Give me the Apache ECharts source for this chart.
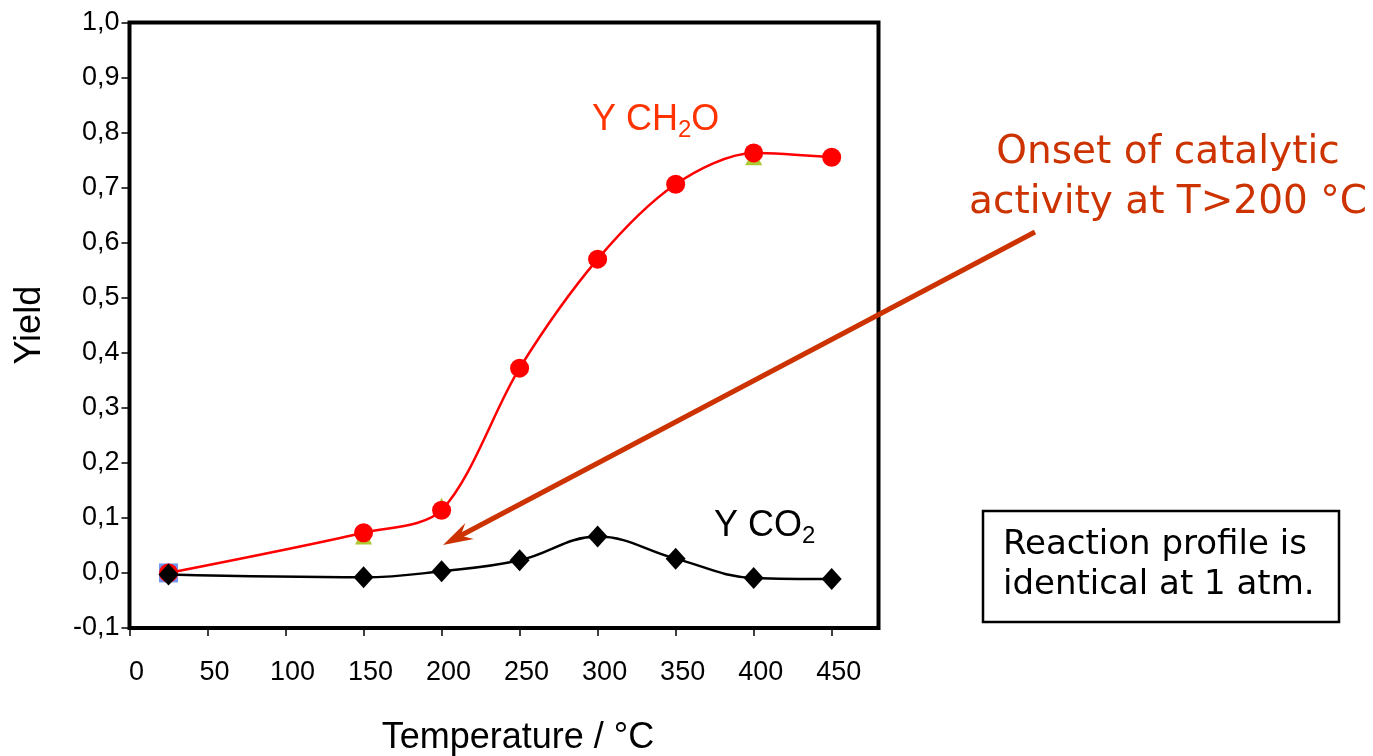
<!DOCTYPE html>
<html>
<head>
    <meta http-equiv="Content-Type" content="text/html; charset=utf-8" />
    <title>Yield vs temperature</title>
    <script src="https://cdn.jsdelivr.net/npm/echarts@6/dist/echarts.min.js"></script>
</head>
<body style="margin:0;padding:0;background:#ffffff;">
    <div id="main" style="width:1373px;height:756px;"></div>
    <script type="text/javascript">
        /*************************************************************
        * data
        *************************************************************/
        var temps = [25, 150, 200, 250, 300, 350, 400, 450];
        var yieldCH2O = [0.0, 0.073, 0.114, 0.372, 0.570, 0.706, 0.763, 0.755];
        var yieldCO2 = [-0.003, -0.008, 0.003, 0.023, 0.066, 0.026, -0.009, -0.011];
        // series hidden behind the red circles (only small bits peek out)
        var yieldHidden = [null, 0.067, 0.121, null, null, null, 0.756, null];
        var startPoint = [[25, 0.0]];
        var xTicks = [0, 50, 100, 150, 200, 250, 300, 350, 400, 450];

        var FONT = 'Liberation Sans';
        var NOTE_FONT = 'DejaVu Sans';

        function pairs(xs, ys) {
            var out = [];
            for (var i = 0; i < xs.length; i++) {
                if (ys[i] == null) continue;
                out.push([xs[i], ys[i]]);
            }
            return out;
        }

        // arrow head polygon from start -> tip
        function arrowHead(x1, y1, x2, y2, len, half, notch) {
            var dx = x2 - x1, dy = y2 - y1;
            var L = Math.sqrt(dx * dx + dy * dy);
            var ux = dx / L, uy = dy / L;
            var nx = -uy, ny = ux;
            var bx = x2 - ux * len, by = y2 - uy * len;
            return [
                [x2, y2],
                [bx + nx * half, by + ny * half],
                [x2 - ux * notch, y2 - uy * notch],
                [bx - nx * half, by - ny * half]
            ];
        }

        var arrowFrom = [1035, 232];
        var arrowTo = [443, 545];

        var chart = echarts.init(document.getElementById('main'));

        var option = {
            animation: false,
            backgroundColor: '#ffffff',
            grid: {
                left: 129.5,
                right: 494.5,
                top: 22.4,
                bottom: 128,
                outerBoundsMode: 'none',
                containLabel: false,
                show: true,
                borderColor: '#000000',
                borderWidth: 4,
                backgroundColor: 'transparent'
            },
            xAxis: {
                type: 'value',
                min: 0,
                max: 480,
                interval: 50,
                name: 'Temperature / °C',
                nameLocation: 'middle',
                nameGap: 92,
                nameMoveOverlap: false,
                nameTextStyle: { fontFamily: FONT, fontSize: 36, color: '#000', padding: [0, 0, 0, 28] },
                axisLine: { show: false, onZero: false },
                axisTick: {
                    show: true, inside: false, length: 8,
                    lineStyle: { color: '#000', width: 1.5 },
                    customValues: xTicks
                },
                axisLabel: {
                    fontFamily: FONT, fontSize: 27, color: '#000',
                    margin: 31,
                    padding: [0, 0, 0, 14],
                    customValues: xTicks
                },
                splitLine: { show: false }
            },
            yAxis: {
                type: 'value',
                min: -0.1,
                max: 1.0,
                interval: 0.1,
                name: 'Yield',
                nameLocation: 'middle',
                nameGap: 81,
                nameRotate: 90,
                nameMoveOverlap: false,
                nameTextStyle: { fontFamily: FONT, fontSize: 36, color: '#000' },
                axisLine: { show: false, onZero: false },
                axisTick: {
                    show: true, inside: false, length: 8,
                    lineStyle: { color: '#000', width: 1.5 }
                },
                axisLabel: {
                    fontFamily: FONT, fontSize: 27, color: '#000',
                    margin: 10,
                    formatter: function (v) {
                        return (Math.round(v * 10) / 10).toFixed(1).replace('.', ',');
                    }
                },
                splitLine: { show: false }
            },
            series: [
                {
                    name: 'start',
                    type: 'scatter',
                    symbol: 'rect',
                    symbolSize: 19,
                    itemStyle: { color: '#4f7df0' },
                    z: 1,
                    data: startPoint
                },
                {
                    name: 'hidden',
                    type: 'scatter',
                    symbol: 'triangle',
                    symbolSize: 17,
                    itemStyle: { color: '#99bb00' },
                    z: 2,
                    data: pairs(temps, yieldHidden)
                },
                {
                    name: 'Y CH2O',
                    type: 'line',
                    smooth: 0.3,
                    symbol: 'circle',
                    symbolSize: 19,
                    showAllSymbol: true,
                    lineStyle: { color: '#ff0000', width: 2.5 },
                    itemStyle: { color: '#ff0000' },
                    z: 3,
                    data: pairs(temps, yieldCH2O)
                },
                {
                    name: 'Y CO2',
                    type: 'line',
                    smooth: 0.4,
                    symbol: 'diamond',
                    symbolSize: [20, 22],
                    showAllSymbol: true,
                    lineStyle: { color: '#000000', width: 2.5 },
                    itemStyle: { color: '#000000' },
                    z: 4,
                    data: pairs(temps, yieldCO2)
                }
            ],
            graphic: [
                {
                    type: 'text',
                    x: 592, y: 102,
                    style: {
                        text: '{m|Y CH}{s|2}{m|O}',
                        verticalAlign: 'top',
                        rich: {
                            m: { fontFamily: FONT, fontSize: 36, lineHeight: 36, verticalAlign: 'top', fill: '#ff3300' },
                            s: { fontFamily: FONT, fontSize: 24, lineHeight: 24, verticalAlign: 'top', padding: [16, 0, 0, 0], fill: '#ff3300' }
                        }
                    }
                },
                {
                    type: 'text',
                    x: 714, y: 508,
                    style: {
                        text: '{m|Y CO}{s|2}',
                        verticalAlign: 'top',
                        rich: {
                            m: { fontFamily: FONT, fontSize: 36, lineHeight: 36, verticalAlign: 'top', fill: '#000' },
                            s: { fontFamily: FONT, fontSize: 24, lineHeight: 24, verticalAlign: 'top', padding: [16, 0, 0, 0], fill: '#000' }
                        }
                    }
                },
                {
                    type: 'text',
                    x: 1168, y: 128,
                    style: {
                        text: 'Onset of catalytic\nactivity at T>200 °C',
                        fontFamily: NOTE_FONT,
                        fontSize: 39,
                        lineHeight: 50,
                        align: 'center',
                        verticalAlign: 'top',
                        fill: '#cc3300'
                    }
                },
                {
                    type: 'line',
                    shape: {
                        x1: arrowFrom[0], y1: arrowFrom[1],
                        x2: arrowTo[0] + 14, y2: arrowTo[1] - 7.5
                    },
                    style: { stroke: '#cc3300', lineWidth: 5 },
                    z: 10
                },
                {
                    type: 'polygon',
                    shape: { points: arrowHead(arrowFrom[0], arrowFrom[1], arrowTo[0], arrowTo[1], 30, 9, 20) },
                    style: { fill: '#cc3300' },
                    z: 10
                },
                {
                    type: 'rect',
                    shape: { x: 983, y: 511, width: 356, height: 111 },
                    style: { fill: '#ffffff', stroke: '#000000', lineWidth: 2.5 }
                },
                {
                    type: 'text',
                    x: 1003, y: 525,
                    style: {
                        text: 'Reaction profile is\nidentical at 1 atm.',
                        fontFamily: NOTE_FONT,
                        fontSize: 34,
                        lineHeight: 40,
                        align: 'left',
                        verticalAlign: 'top',
                        fill: '#000000'
                    },
                    z: 11
                }
            ]
        };

        chart.setOption(option);
    </script>
</body>
</html>
